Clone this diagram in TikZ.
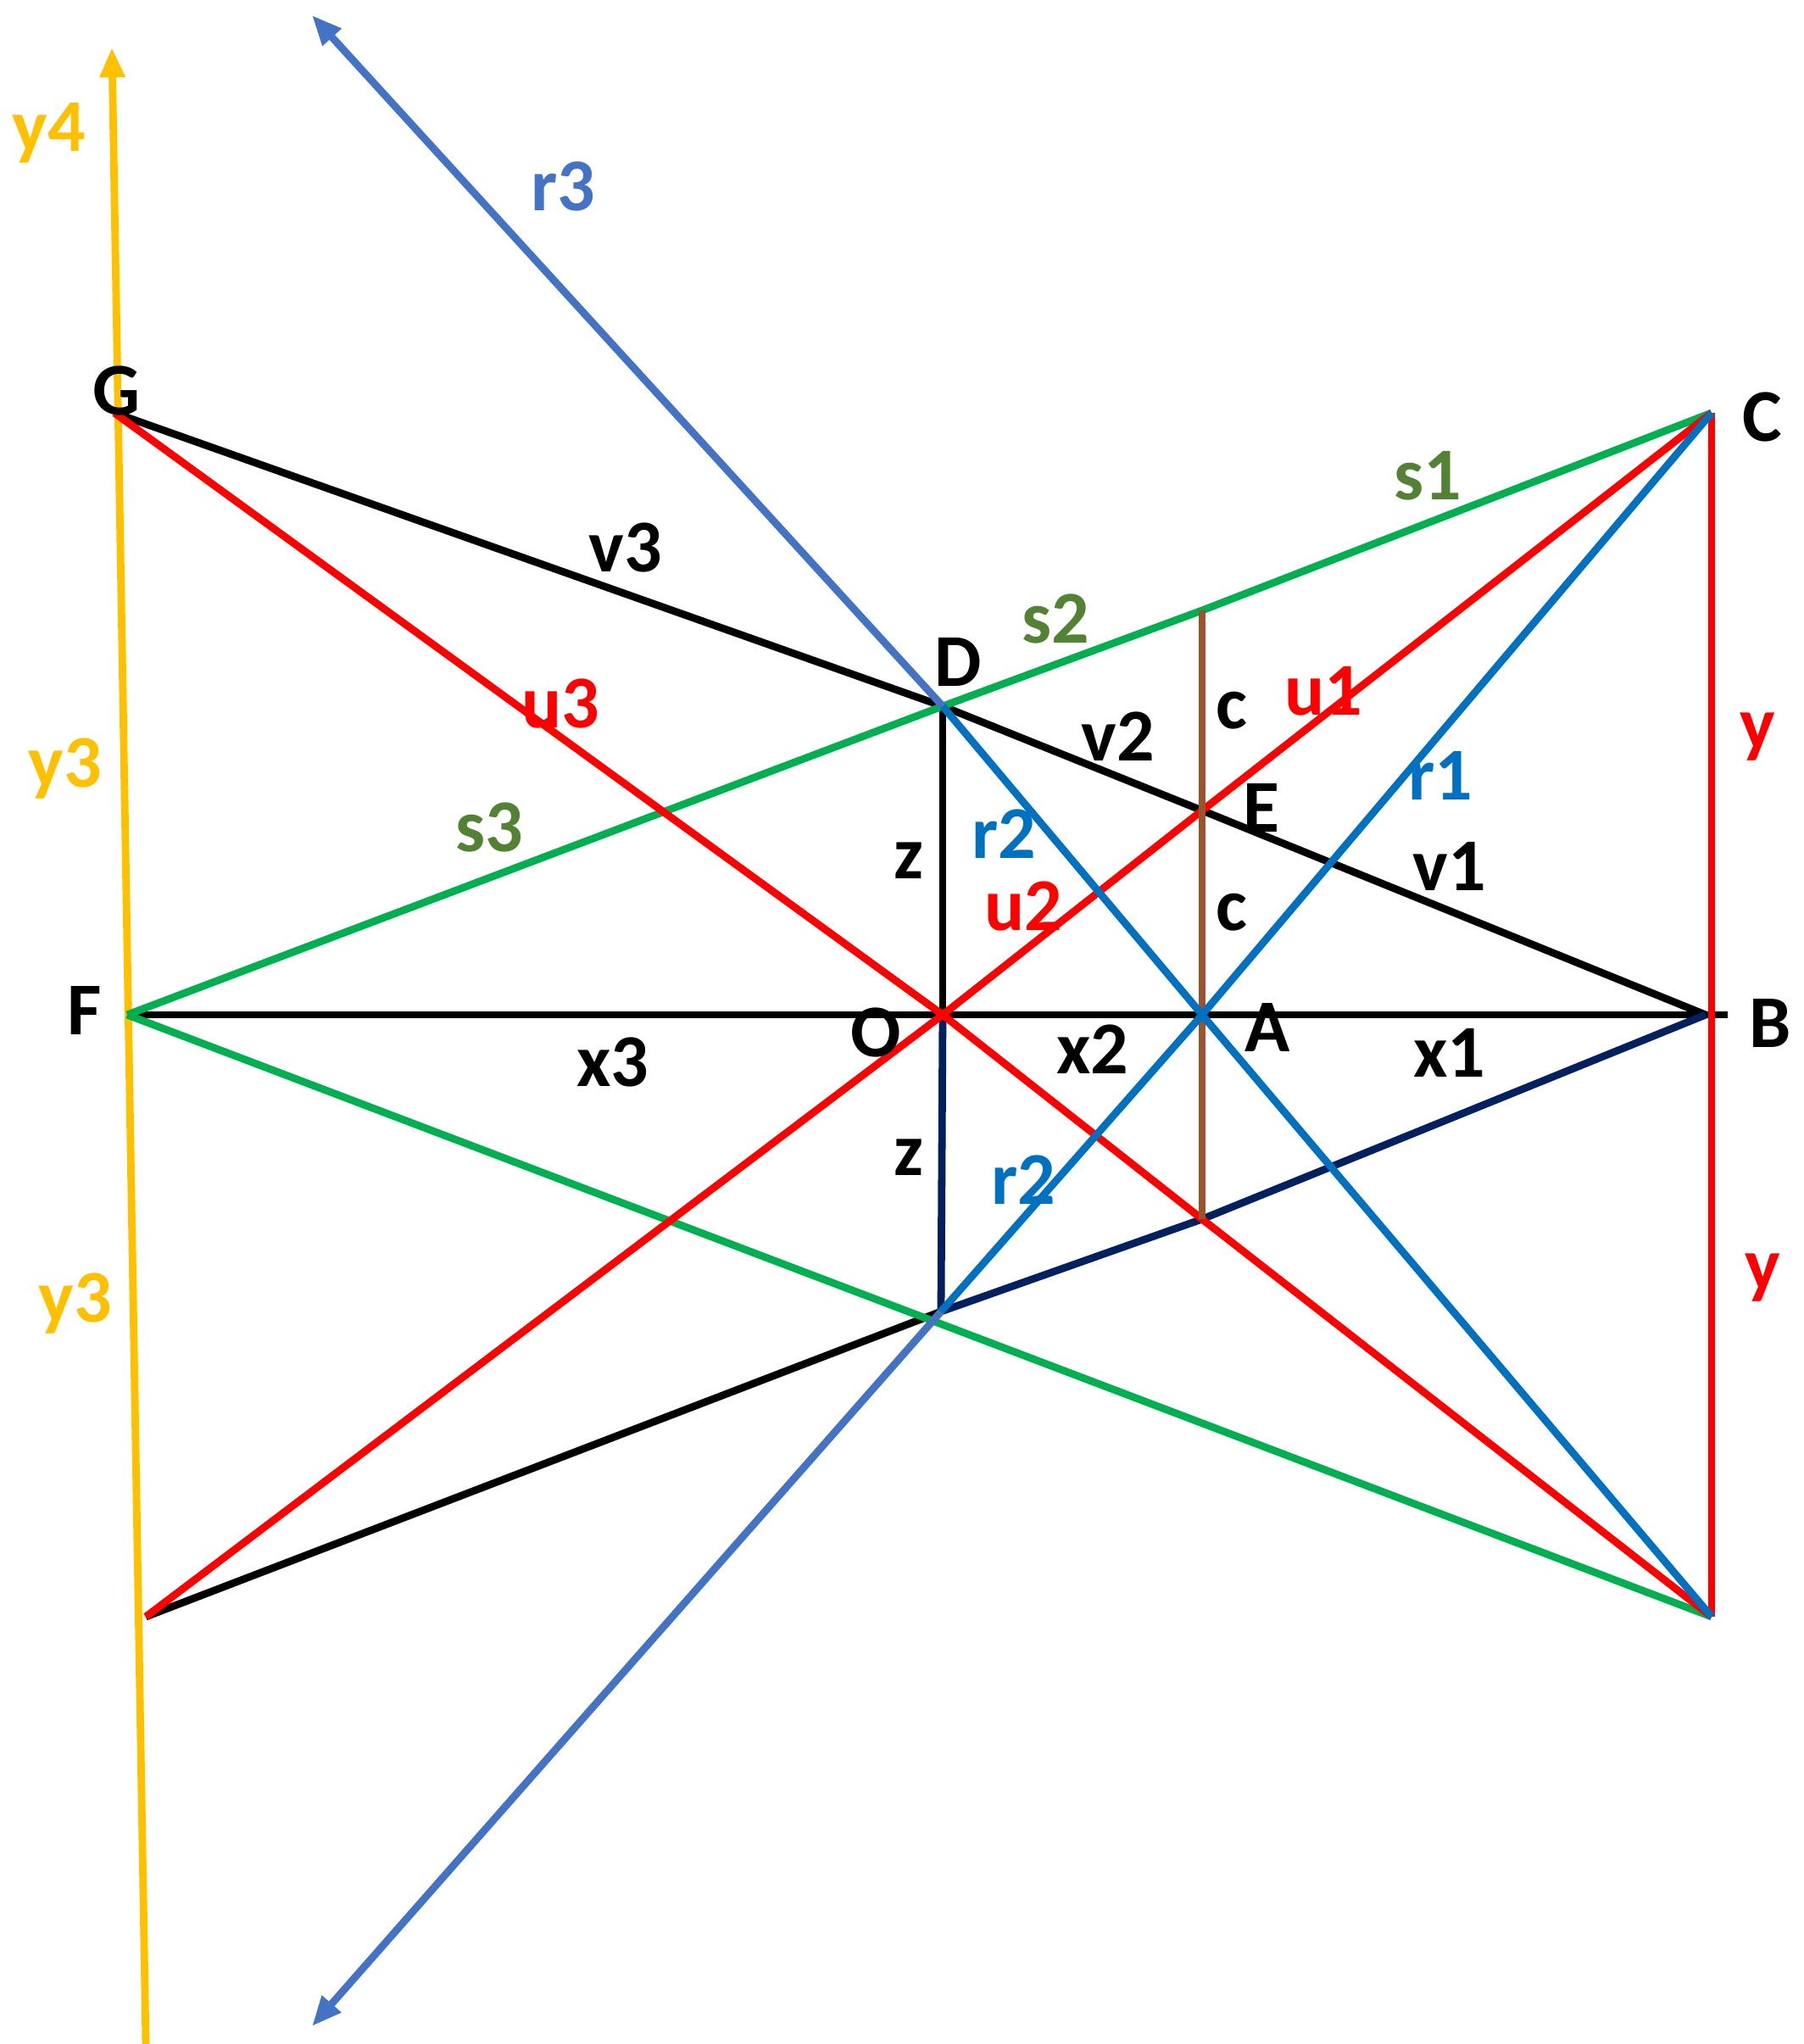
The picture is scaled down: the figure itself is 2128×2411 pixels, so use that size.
\documentclass[tikz,border=0pt]{standalone}
\usepackage{fontspec}
\setmainfont{Carlito}
\usetikzlibrary{arrows.meta}

\definecolor{myred}{RGB}{255,0,0}
\definecolor{mygreen}{RGB}{0,176,80}
\definecolor{txtgreen}{RGB}{84,130,53}
\definecolor{myblue}{RGB}{0,112,192}
\definecolor{lightblue}{RGB}{68,114,196}
\definecolor{navy}{RGB}{0,32,96}
\definecolor{brown}{RGB}{150,85,45}
\definecolor{yel}{RGB}{255,192,0}

\begin{document}
\begin{tikzpicture}[x=0.01cm,y=-0.01cm,line width=2.5pt,
  lab/.style={font=\fontsize{25}{30}\selectfont\bfseries},
  tip/.style={-{Triangle[length=10pt,width=8pt]}}]

\useasboundingbox (0,0) rectangle (2128,2411) ;

\coordinate (G) at (135,487) ;
\coordinate (C) at (2019,487) ;
\coordinate (F) at (150,1197) ;
\coordinate (O) at (1112,1197) ;
\coordinate (A) at (1418,1197) ;
\coordinate (B) at (2012,1197) ;
\coordinate (Bx) at (2038,1197) ;
\coordinate (D) at (1112,833) ;
\coordinate (E) at (1418,956) ;
\coordinate (S) at (1418,720) ;
\coordinate (Q) at (1418,1438) ;
\coordinate (P) at (1110,1547) ;
\coordinate (H) at (2019,1907) ;
\coordinate (K) at (172,1907) ;
\coordinate (ytop) at (132,56) ;
\coordinate (ybot) at (172,2411) ;
\coordinate (r3top) at (368,18) ;
\coordinate (r3bot) at (368,2390) ;

\draw[yel,tip](ybot)--(ytop) ;

\draw[-](F)--(Bx) ;
\draw[-](G)--(D)--(E)--(B) ;
\draw[-](K)--(P) ;
\draw[-](D)--(O) ;
\draw[navy](O)--(P) ;
\draw[navy](P)--(Q)--(B) ;

\draw[mygreen](F)--(D)--(S)--(C) ;
\draw[mygreen](F)--(H) ;

\draw[myred](G)--(O)--(Q)--(H) ;
\draw[myred](K)--(O)--(E)--(C) ;
\draw[myred](C)--(H) ;

\draw[brown](S)--(Q) ;

\draw[myblue](H)--(A)--(D) ;
\draw[myblue](C)--(A)--(P) ;
\draw[lightblue,tip](D)--(r3top) ;
\draw[lightblue,tip](P)--(r3bot) ;

\draw (58,157) node[lab,yel](ly4){y4} ;
\draw (664,220) node[lab,lightblue](lr3){r3} ;
\draw (138,461) node[lab](lG){G} ;
\draw (2079,492) node[lab](lC){C} ;
\draw (1684,561) node[lab,txtgreen](ls1){s1} ;
\draw (738,646) node[lab](lv3){v3} ;
\draw (1245,730) node[lab,txtgreen](ls2){s2} ;
\draw (1130,781) node[lab](lD){D} ;
\draw (661,830) node[lab,myred](lu3){u3} ;
\draw (1453,838) node[lab](lc1){c} ;
\draw (1561,815) node[lab,myred](lu1){u1} ;
\draw (77,907) node[lab,yel](ly3a){y3} ;
\draw (1319,869) node[lab](lv2){v2} ;
\draw (2073,869) node[lab,myred](ly1){y} ;
\draw (1699,915) node[lab,myblue](lr1){r1} ;
\draw (1488,953) node[lab](lE){E} ;
\draw (577,976) node[lab,txtgreen](ls3){s3} ;
\draw (1184,984) node[lab,myblue](lr2a){r2} ;
\draw (1072,1015) node[lab](lz1){z} ;
\draw (1710,1022) node[lab](lv1){v1} ;
\draw (1207,1069) node[lab,myred](lu2){u2} ;
\draw (1453,1076) node[lab](lc2){c} ;

\draw (100,1192) node[lab](lF){F} ;
\draw (1033,1218) node[lab](lO){O} ;
\draw (1495,1212) node[lab](lA){A} ;
\draw (2088,1207) node[lab](lB){B} ;
\draw (723,1253) node[lab](lx3){x3} ;
\draw (1289,1238) node[lab](lx2){x2} ;
\draw (1710,1242) node[lab](lx1){x1} ;
\draw (1072,1365) node[lab](lz2){z} ;
\draw (1207,1392) node[lab,myblue](lr2b){r2} ;
\draw (2079,1507) node[lab,myred](ly2){y} ;
\draw (89,1538) node[lab,yel](ly3b){y3} ;
\end{tikzpicture}
\end{document}
